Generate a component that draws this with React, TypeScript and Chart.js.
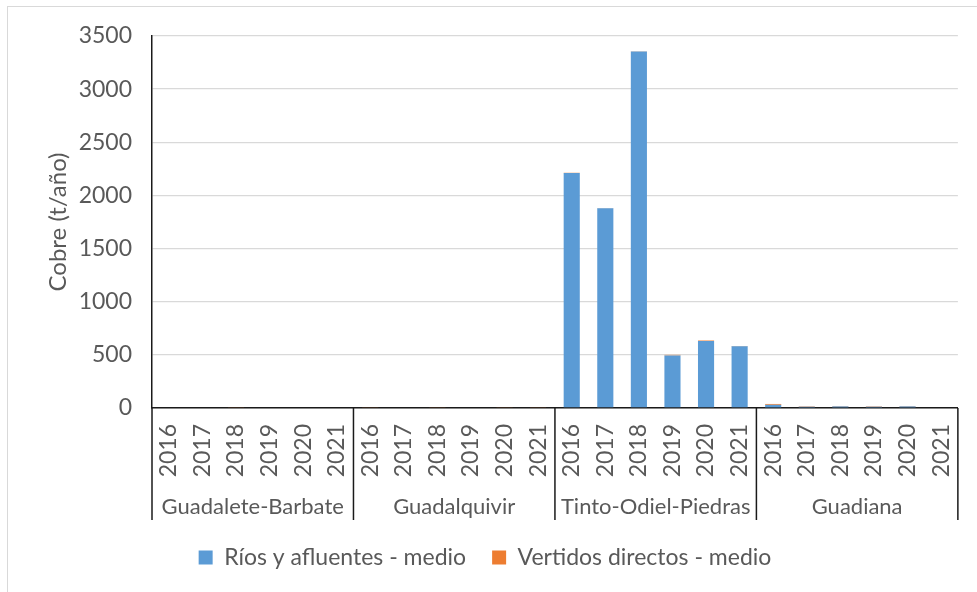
import React, { useEffect, useRef } from "react";
import { Chart, registerables } from "chart.js";

Chart.register(...registerables);

const groups = ["Guadalete-Barbate", "Guadalquivir", "Tinto-Odiel-Piedras", "Guadiana"];
const years = ["2016", "2017", "2018", "2019", "2020", "2021"];
const riosValues = [
  0, 0, 0, 0, 0, 0,
  0, 0, 0, 0, 0, 0,
  2210, 1880, 3355, 495, 630, 580,
  30, 12, 15, 12, 15, 0,
];
const vertidosValues = [
  0, 0, 5, 0, 0, 0,
  5, 0, 5, 0, 5, 5,
  3, 2, 2, 5, 5, 3,
  8, 4, 4, 4, 4, 0,
];
const yTicks = [0, 500, 1000, 1500, 2000, 2500, 3000, 3500];

const FONT = "Lato, 'Open Sans', sans-serif";
const TEXT = "#595959";

const labels: string[] = [];
groups.forEach(() => years.forEach((y) => labels.push(y)));

const groupPlugin = {
  id: "groupPlugin",
  beforeDraw(chart: any) {
    const ctx = chart.ctx;
    ctx.save();
    ctx.strokeStyle = "#d9d9d9";
    ctx.lineWidth = 1;
    ctx.strokeRect(7.5, 6.5, 1000, 700);
    ctx.restore();
  },
  afterDraw(chart: any) {
    const ctx = chart.ctx;
    const xs = chart.scales.x;
    const ys = chart.scales.y;
    const zeroY = ys.getPixelForValue(0);
    const bottom = 520;
    const n = labels.length;
    const half = (xs.getPixelForValue(1) - xs.getPixelForValue(0)) / 2;
    ctx.save();
    ctx.strokeStyle = "#1a1a1a";
    ctx.lineWidth = 1.5;
    for (let g = 0; g <= groups.length; g++) {
      const idx = g * years.length;
      const x = idx < n ? xs.getPixelForValue(idx) - half : xs.getPixelForValue(n - 1) + half;
      ctx.beginPath();
      ctx.moveTo(x, zeroY);
      ctx.lineTo(x, bottom);
      ctx.stroke();
    }
    ctx.fillStyle = TEXT;
    ctx.font = `22px ${FONT}`;
    ctx.textAlign = "center";
    ctx.textBaseline = "middle";
    groups.forEach((name, g) => {
      const a = xs.getPixelForValue(g * years.length) - half;
      const b = xs.getPixelForValue(g * years.length + years.length - 1) + half;
      ctx.fillText(name, (a + b) / 2, 507);
    });
    ctx.restore();
  },
};

export default function App() {
  const ref = useRef<HTMLCanvasElement | null>(null);
  useEffect(() => {
    if (!ref.current) return;
    const chart = new Chart(ref.current, {
      type: "bar",
      data: {
        labels,
        datasets: [
          {
            label: "Ríos y afluentes - medio",
            data: riosValues,
            backgroundColor: "#5B9BD5",
            barPercentage: 0.48,
            categoryPercentage: 1,
          },
          {
            label: "Vertidos directos - medio",
            data: vertidosValues,
            backgroundColor: "#ED7D31",
            barPercentage: 0.48,
            categoryPercentage: 1,
          },
        ],
      },
      options: {
        animation: false,
        responsive: false,
        maintainAspectRatio: false,
        layout: { padding: { left: 8, top: 36, right: 15, bottom: 13 } },
        plugins: {
          tooltip: { enabled: false },
          legend: {
            position: "bottom",
            labels: {
              color: TEXT,
              font: { family: FONT, size: 23 },
              boxWidth: 14,
              boxHeight: 14,
              padding: 26,
            },
          },
        },
        scales: {
          x: {
            stacked: true,
            grid: { display: false },
            border: { display: true, color: "#1a1a1a", width: 1.5 },
            ticks: {
              color: TEXT,
              font: { family: FONT, size: 23 },
              minRotation: 90,
              maxRotation: 90,
              autoSkip: false,
              padding: 8,
            },
            afterFit(scale: any) {
              scale.height = 112;
            },
          },
          y: {
            stacked: true,
            min: 0,
            max: 3500,
            afterBuildTicks(scale: any) {
              scale.ticks = yTicks.map((v) => ({ value: v }));
            },
            grid: { color: "#d9d9d9", lineWidth: 1.3, drawTicks: false },
            border: { display: true, color: "#1a1a1a", width: 1.5 },
            ticks: {
              color: TEXT,
              font: { family: FONT, size: 23 },
              padding: 20,
              callback: (v: any) => String(v),
            },
            title: {
              display: true,
              text: "Cobre (t/año)",
              color: TEXT,
              font: { family: FONT, size: 24 },
              padding: { top: 36, bottom: 0 },
            },
            afterFit(scale: any) {
              scale.width = 144;
            },
          },
        },
      },
      plugins: [groupPlugin],
    });
    return () => chart.destroy();
  }, []);
  return (
    <div style={{ position: "absolute", left: 0, top: 0, width: 977, height: 592, background: "#fff" }}>
      <canvas ref={ref} width={977} height={592} style={{ display: "block" }} />
    </div>
  );
}
